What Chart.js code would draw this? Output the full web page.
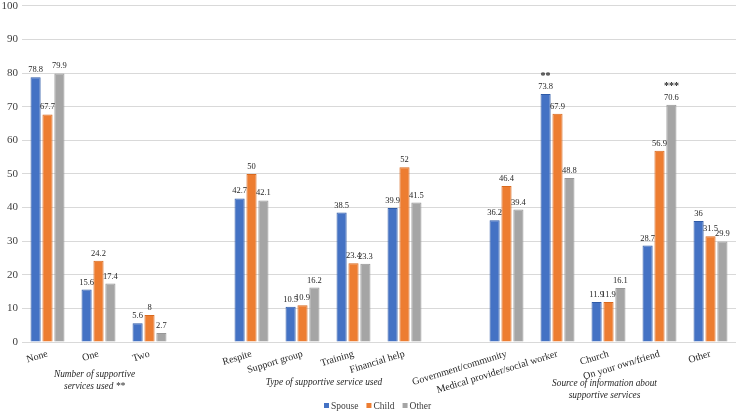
<!DOCTYPE html>
<html>
<head>
<meta charset="utf-8">
<script src="https://cdn.jsdelivr.net/npm/chart.js@4/dist/chart.umd.min.js"></script>
<style>
  html, body { margin: 0; padding: 0; background: #fff; }
  #wrap { width: 737px; height: 412px; }
</style>
</head>
<body>
<div id="wrap"><canvas id="supportChart"></canvas></div>
<script>
var categories = ['None', 'One', 'Two', '', 'Respite', 'Support group', 'Training', 'Financial help', ' ',
    'Government/community', 'Medical provider/social worker', 'Church', 'On your own/friend', 'Other'];
var seriesNames = ['Spouse', 'Child', 'Other'];
var spouseValues = [78.8, 15.6, 5.6, null, 42.7, 10.5, 38.5, 39.9, null, 36.2, 73.8, 11.9, 28.7, 36];
var childValues = [67.7, 24.2, 8, null, 50, 10.9, 23.4, 52, null, 46.4, 67.9, 11.9, 56.9, 31.5];
var otherValues = [79.9, 17.4, 2.7, null, 42.1, 16.2, 23.3, 41.5, null, 39.4, 48.8, 16.1, 70.6, 29.9];
var yTicks = [0, 10, 20, 30, 40, 50, 60, 70, 80, 90, 100];

// significance stars over single bars
var markCategories = ['Medical provider/social worker', 'On your own/friend'];
var markSeries = [0, 2];
var markText = ['**', '***'];

// group captions under the axis
var groupTitles = [['Number of supportive', 'services used **'], ['Type of supportive service used'], ['Source of information about', 'supportive services']];
var groupFrom = ['None', 'Respite', 'Government/community'];
var groupTo = ['Two', 'Financial help', 'Other'];

var fillColors = ['#4472C4', '#ED7D31', '#A5A5A5'];
var edgeColors = ['#2F5BA8', '#D8691E', '#979797'];
var serif = '"Liberation Serif", "Times New Roman", serif';

var barLabels = {
    id: 'barLabels',
    afterDatasetsDraw: function(chart) {
        var ctx = chart.ctx;
        ctx.save();
        ctx.font = '8.5px ' + serif;
        ctx.fillStyle = '#262626';
        ctx.textAlign = 'center';
        ctx.textBaseline = 'bottom';
        chart.data.datasets.forEach(function(ds, i) {
            var meta = chart.getDatasetMeta(i);
            meta.data.forEach(function(bar, j) {
                var v = ds.data[j];
                if (v === null) return;
                ctx.fillText(String(v), bar.x, bar.y - 3);
            });
        });
        ctx.font = 'bold 10px ' + serif;
        markCategories.forEach(function(cat, k) {
            var idx = categories.indexOf(cat);
            var bar = chart.getDatasetMeta(markSeries[k]).data[idx];
            ctx.fillText(markText[k], bar.x, bar.y - 13);
        });

        // group captions
        var xs = chart.scales.x;
        var base = chart.chartArea.bottom;
        var offs = [33, 41, 42];
        ctx.font = 'italic 9.3px ' + serif;
        ctx.fillStyle = '#262626';
        ctx.textBaseline = 'middle';
        groupTitles.forEach(function(lines, g) {
            var cx = (xs.getPixelForValue(categories.indexOf(groupFrom[g])) +
                      xs.getPixelForValue(categories.indexOf(groupTo[g]))) / 2 - 4;
            lines.forEach(function(t, l) {
                ctx.fillText(t, cx, base + offs[g] + l * 12);
            });
        });

        // legend
        ctx.font = '9.5px ' + serif;
        ctx.textAlign = 'left';
        var lx = 324, ly = 406;
        seriesNames.forEach(function(name, i) {
            ctx.fillStyle = fillColors[i];
            ctx.fillRect(lx, ly - 3, 5, 5);
            ctx.fillStyle = '#404040';
            ctx.fillText(name, lx + 7, ly);
            lx += 7 + ctx.measureText(name).width + 8;
        });
        ctx.restore();
    }
};

var ctx = document.getElementById('supportChart').getContext('2d');

var chart = new Chart(ctx, {
    type: 'bar',
    data: {
        labels: categories,
        datasets: [spouseValues, childValues, otherValues].map(function(vals, i) {
            return {
                label: seriesNames[i],
                data: vals,
                backgroundColor: fillColors[i],
                borderColor: edgeColors[i],
                borderWidth: 1,
                categoryPercentage: 0.7,
                barPercentage: 0.85
            };
        })
    },
    options: {
        responsive: true,
        maintainAspectRatio: false,
        animation: false,
        layout: { padding: { top: 0, right: 1 } },
        plugins: {
            legend: { display: false },
            tooltip: { enabled: false }
        },
        scales: {
            x: {
                grid: { display: false, drawTicks: false },
                border: { display: false },
                ticks: {
                    autoSkip: false,
                    minRotation: 17,
                    maxRotation: 17,
                    padding: 6,
                    color: '#262626',
                    font: { family: serif, size: 10 }
                },
                afterFit: function(s) { s.height = 70; }
            },
            y: {
                min: 0,
                max: 100,
                afterBuildTicks: function(s) {
                    s.ticks = yTicks.map(function(v) { return { value: v }; });
                },
                grid: { color: '#D9D9D9', lineWidth: 1, drawTicks: false },
                border: { display: false },
                ticks: {
                    padding: 4,
                    color: '#404040',
                    font: { family: serif, size: 11, lineHeight: 0.35 }
                },
                afterFit: function(s) { s.width = 22; }
            }
        }
    },
    plugins: [barLabels]
});
</script>
</body>
</html>
